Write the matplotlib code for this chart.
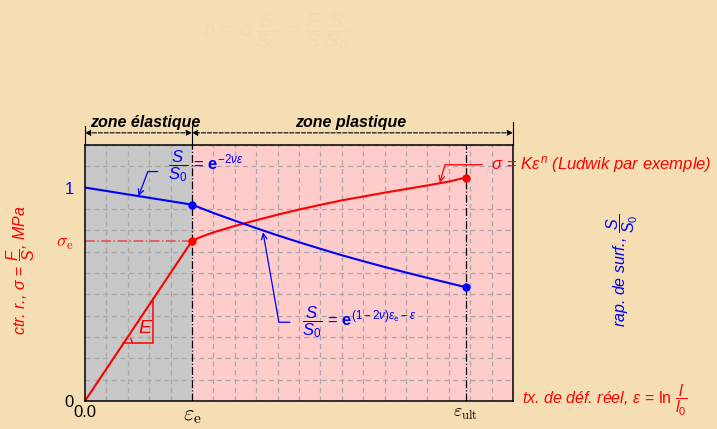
import numpy as np
import matplotlib.pyplot as plt
from matplotlib.patches import Arc
from matplotlib.ticker import MultipleLocator

plt.rcParams['font.family'] = ['Liberation Sans', 'DejaVu Sans']
plt.rcParams['mathtext.fontset'] = 'custom'
plt.rcParams['mathtext.rm'] = 'Liberation Sans'
plt.rcParams['mathtext.it'] = 'Liberation Sans:italic'
plt.rcParams['mathtext.bf'] = 'Liberation Sans:bold'

# points caractéristiques
eps_e = 0.25
eps_ult = 0.89
sigma_e = 0.75

# contrainte vraie (élastique puis Ludwik)
sig_x = [0.0, 0.25, 0.27, 0.30, 0.35, 0.40, 0.45, 0.50, 0.55, 0.60, 0.65, 0.70, 0.75, 0.80, 0.85, 0.89]
sig_y = [0.0, 0.75, 0.768, 0.79, 0.82, 0.847, 0.873, 0.897, 0.919, 0.94, 0.958, 0.976, 0.993, 1.01, 1.028, 1.047]

# rapport de surface S/S0
surf_x = [0.0, 0.125, 0.25, 0.30, 0.35, 0.40, 0.45, 0.50, 0.55, 0.60, 0.65, 0.70, 0.75, 0.80, 0.89]
surf_y = [1.0, 0.96, 0.92, 0.881, 0.845, 0.81, 0.776, 0.744, 0.713, 0.683, 0.655, 0.628, 0.602, 0.577, 0.533]

# triangle du module E
tri_x = [0.09, 0.16]

ROUGE = '#ff0000'
BLEU = '#0000ff'

fig = plt.figure(figsize=(7.17, 4.29), dpi=100, facecolor='#f5deb3')
ax = fig.add_axes([0.1185, 0.0653, 0.597, 0.597])
ax.set_xlim(0, 1)
ax.set_ylim(0, 1.2)

ax.axvspan(0, eps_e, color='#c8c8c8', zorder=0)
ax.axvspan(eps_e, 1, color='#ffcccc', zorder=0)

ax.xaxis.set_minor_locator(MultipleLocator(0.05))
ax.yaxis.set_minor_locator(MultipleLocator(0.1))
ax.grid(which='minor', color='#a8a8a8', ls=(0, (4, 3)), lw=0.9)
ax.tick_params(which='both', length=0)

ax.axvline(eps_e, color='k', ls='-.', lw=0.9)
ax.axvline(eps_ult, color='k', ls='-.', lw=0.9)
ax.plot([0, eps_e], [sigma_e, sigma_e], color='#e84848', ls='-.', lw=1.1)

ax.plot(sig_x, sig_y, color=ROUGE, lw=1.5)
ax.plot(surf_x, surf_y, color=BLEU, lw=1.5)
ax.plot([sig_x[1], sig_x[-1]], [sig_y[1], sig_y[-1]], 'o', color=ROUGE, ms=5)
ax.plot([surf_x[2], surf_x[-1]], [surf_y[2], surf_y[-1]], 'o', color=BLEU, ms=5)

for s in ax.spines.values():
    s.set_linewidth(1.1)

# triangle E
pente = sigma_e / eps_e
tri_y = [pente * tri_x[0], pente * tri_x[1]]
ax.plot([tri_x[0], tri_x[1], tri_x[1]], [tri_y[0], tri_y[0], tri_y[1]], color=ROUGE, lw=1.1)
ax.add_patch(Arc((tri_x[0], tri_y[0]), 0.04, 0.08, theta1=0, theta2=56, color=ROUGE, lw=1))
ax.text(0.14, 0.34, 'E', color=ROUGE, fontsize=14, style='italic', ha='center', va='center')

# ticks
ax.set_xticks([0, eps_e, eps_ult])
ax.set_xticklabels(['0.0', r'$\varepsilon_\mathrm{e}$', r'$\varepsilon_\mathrm{ult}$'])
xl = ax.get_xticklabels()
xl[0].set_fontsize(12)
xl[1].set_fontsize(16)
xl[1].set_math_fontfamily('cm')
xl[2].set_fontsize(13)
xl[2].set_math_fontfamily('cm')
ax.set_yticks([0, sigma_e, 1])
ax.set_yticklabels(['0', r'$\sigma_\mathrm{e}$', '1'])
for lab, c in zip(ax.get_yticklabels(), ['k', ROUGE, BLEU]):
    lab.set_color(c)
    lab.set_fontsize(12)
ax.get_yticklabels()[1].set_math_fontfamily('cm')
ax.get_yticklabels()[1].set_fontsize(13)
ax.tick_params(axis='x', pad=3)
ax.tick_params(axis='y', pad=8)

# zones en haut
trans = ax.get_xaxis_transform()
for x, h in [(0, 1.075), (eps_e, 1.075), (1, 1.09)]:
    ax.plot([x, x], [1.0, h], transform=trans, color='k', lw=0.8, clip_on=False)
for a, b in [(0, eps_e), (eps_e, 1)]:
    ax.annotate('', xy=(a, 1.047), xytext=(b, 1.047), xycoords=trans,
                arrowprops=dict(arrowstyle='<|-|>', ls='--', lw=0.8, color='k',
                                shrinkA=0, shrinkB=0, mutation_scale=8))
ax.text(eps_e / 2 + 0.015, 1.06, 'zone élastique', transform=trans, ha='center', va='bottom',
        fontsize=11.5, fontweight='bold', style='italic')
ax.text(0.62, 1.06, 'zone plastique', transform=trans, ha='center', va='bottom',
        fontsize=11.5, fontweight='bold', style='italic')

# annotations
ax.text(0.194, 1.10, r'$\dfrac{S}{S_0}\,=\,\mathbf{e}^{-2\nu\varepsilon}$', color=BLEU,
        fontsize=12, va='center', ha='left')
ax.annotate('', xy=(0.125, 0.96), xytext=(0.17, 1.075),
            arrowprops=dict(arrowstyle='->', color=BLEU, lw=0.9, shrinkA=0, shrinkB=0,
                            connectionstyle='angle,angleA=0,angleB=69,rad=0'))

ax.text(0.949, 1.107, r'$\sigma\,=\,K\varepsilon^n$ (Ludwik par exemple)', color=ROUGE,
        fontsize=12, style='italic', va='center', ha='left', clip_on=False)
ax.annotate('', xy=(0.829, 1.023), xytext=(0.928, 1.107),
            arrowprops=dict(arrowstyle='->', color=ROUGE, lw=0.9, shrinkA=0, shrinkB=0,
                            connectionstyle='angle,angleA=0,angleB=74,rad=0'))

ax.text(0.507, 0.369, r'$\dfrac{S}{S_0}\,=\,\mathbf{e}^{(1-2\nu)\varepsilon_\mathrm{e}-\varepsilon}$',
        color=BLEU, fontsize=12, va='center', ha='left')
ax.annotate('', xy=(0.416, 0.79), xytext=(0.479, 0.369),
            arrowprops=dict(arrowstyle='->', color=BLEU, lw=0.9, shrinkA=0, shrinkB=0,
                            connectionstyle='angle,angleA=0,angleB=-80,rad=0'))

# libellés des axes
fig.text(0.028, 0.371, r'ctr. r., $\sigma\,=\,\dfrac{F}{S}$, MPa', color=ROUGE, fontsize=11.5,
         style='italic', rotation=90, ha='center', va='center')
fig.text(0.868, 0.371, r'rap. de surf., $\dfrac{S}{S_0}$', color=BLEU, fontsize=11.5,
         style='italic', rotation=90, ha='center', va='center')
fig.text(0.728, 0.068, r'tx. de déf. réel, $\varepsilon\,=\,\mathrm{ln}\ \dfrac{l}{l_0}$', color=ROUGE,
         fontsize=11.5, style='italic', ha='left', va='center')

# formule en filigrane
fig.text(0.283, 0.925, r'$n\,=\,\sigma\,\dfrac{S}{S_0}\,=\,\dfrac{F}{S}\,\dfrac{S}{S_0}$', color='#f2d9ae',
         fontsize=15, ha='left', va='center')

fig.savefig('out.png', dpi=100, facecolor=fig.get_facecolor())
